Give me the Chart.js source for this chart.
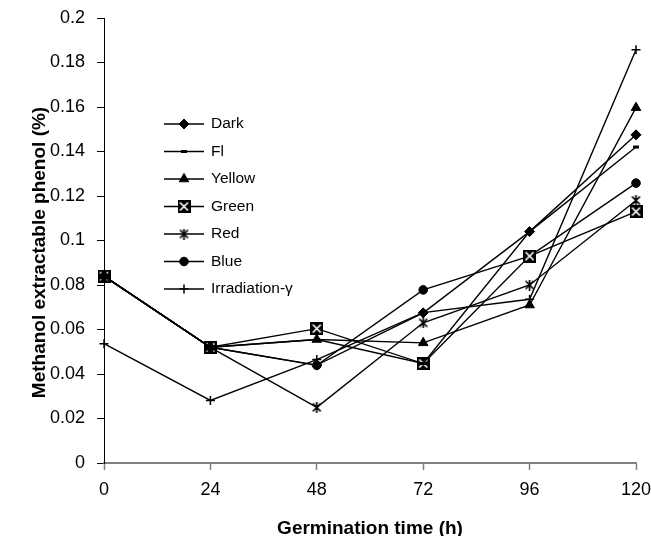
<!DOCTYPE html>
<html>
<head>
<meta charset="utf-8">
<script src="https://cdn.jsdelivr.net/npm/chart.js@4.4.1/dist/chart.umd.min.js"></script>
<style>
  html, body { margin: 0; padding: 0; background: #fff; }
  canvas { display: block; }
</style>
</head>
<body>
<canvas id="phenolChart" width="651" height="536"></canvas>
<script>
// Germination time (h)
const hours = ['0', '24', '48', '72', '96', '120'];

// Methanol extractable phenol (%) per light treatment
const dark = [0.084, 0.052, 0.044, 0.0675, 0.104, 0.1475];
const fl = [0.084, 0.052, 0.0555, 0.0447, 0.104, 0.142];
const yellow = [0.084, 0.052, 0.0555, 0.054, 0.071, 0.1597];
const green = [0.084, 0.052, 0.0604, 0.0447, 0.093, 0.113];
const red = [0.084, 0.052, 0.025, 0.063, 0.080, 0.118];
const blue = [0.084, 0.052, 0.0439, 0.0778, 0.093, 0.1258];
const irradiation = [0.0536, 0.0281, 0.0465, 0.0676, 0.0736, 0.1857];

const seriesNames = ['Dark', 'Fl', 'Yellow', 'Green', 'Red', 'Blue', 'Irradiation-γ'];
const yTitle = 'Methanol extractable phenol (%)';

Chart.defaults.font.family = '"Liberation Sans", Arial, sans-serif';
Chart.defaults.color = '#000';

// small canvases for the markers Chart.js doesn't have
function makeMarker(size, draw) {
    const c = document.createElement('canvas');
    c.width = size;
    c.height = size;
    draw(c.getContext('2d'), size);
    return c;
}

const greenMarker = makeMarker(13, (g, s) => {
    g.fillStyle = '#000';
    g.fillRect(0, 0, s, s);
    g.strokeStyle = '#fff';
    g.lineWidth = 1.7;
    g.beginPath();
    g.moveTo(2.5, 2.5); g.lineTo(s - 2.5, s - 2.5);
    g.moveTo(s - 2.5, 2.5); g.lineTo(2.5, s - 2.5);
    g.stroke();
});

const redMarker = makeMarker(11, (g, s) => {
    g.strokeStyle = '#000';
    g.lineWidth = 1.7;
    g.beginPath();
    g.moveTo(1.5, 1.5); g.lineTo(s - 1.5, s - 1.5);
    g.moveTo(s - 1.5, 1.5); g.lineTo(1.5, s - 1.5);
    g.moveTo(s / 2, 0); g.lineTo(s / 2, s);
    g.stroke();
});

function series(label, data, pointStyle, radius, pointBorderWidth) {
    return {
        label: label,
        data: data,
        borderColor: '#000',
        backgroundColor: '#000',
        borderWidth: 1.4,
        pointStyle: pointStyle,
        pointRadius: radius,
        pointBorderWidth: pointBorderWidth,
        pointBorderColor: '#000',
        pointBackgroundColor: '#000',
        tension: 0,
        fill: false
    };
}

// legend drawn inside the plot, like the original
const insideLegend = {
    id: 'insideLegend',
    afterDraw(chart) {
        const ctx = chart.ctx;
        ctx.save();
        ctx.font = '15.5px "Liberation Sans", Arial, sans-serif';
        ctx.textBaseline = 'middle';
        chart.data.datasets.forEach((ds, i) => {
            const y = 124 + i * 27.5;
            ctx.strokeStyle = '#000';
            ctx.fillStyle = '#000';
            ctx.lineWidth = ds.borderWidth;
            ctx.beginPath();
            ctx.moveTo(164, y);
            ctx.lineTo(204, y);
            ctx.stroke();
            ctx.lineWidth = ds.pointBorderWidth;
            Chart.helpers.drawPoint(ctx, {
                pointStyle: ds.pointStyle,
                radius: ds.pointRadius,
                rotation: 0,
                borderWidth: ds.pointBorderWidth
            }, 184, y);
            ctx.fillStyle = '#000';
            ctx.fillText(ds.label, 211, y);
        });
        ctx.restore();
    }
};

// y title sits a bit below the middle of the axis in the original
const yAxisTitle = {
    id: 'yAxisTitle',
    afterDraw(chart) {
        const ctx = chart.ctx;
        const area = chart.chartArea;
        ctx.save();
        ctx.translate(40, (area.top + area.bottom) / 2 + 12);
        ctx.rotate(-Math.PI / 2);
        ctx.font = 'bold 19px "Liberation Sans", Arial, sans-serif';
        ctx.textAlign = 'center';
        ctx.textBaseline = 'middle';
        ctx.fillStyle = '#000';
        ctx.fillText(yTitle, 0, 0);
        ctx.restore();
    }
};

const whiteBg = {
    id: 'whiteBg',
    beforeDraw(chart) {
        const ctx = chart.ctx;
        ctx.save();
        ctx.fillStyle = '#fff';
        ctx.fillRect(0, 0, chart.width, chart.height);
        ctx.restore();
    }
};

new Chart(document.getElementById('phenolChart'), {
    type: 'line',
    data: {
        labels: hours,
        datasets: [
            series(seriesNames[0], dark, 'rectRot', 5, 1),
            series(seriesNames[1], fl, 'line', 3, 3),
            series(seriesNames[2], yellow, 'triangle', 5.5, 1),
            series(seriesNames[3], green, greenMarker, 6.5, 1),
            series(seriesNames[4], red, redMarker, 5.5, 1.4),
            series(seriesNames[5], blue, 'circle', 4.3, 1),
            series(seriesNames[6], irradiation, 'cross', 4.5, 1.5)
        ]
    },
    options: {
        responsive: false,
        animation: false,
        devicePixelRatio: 1,
        layout: { padding: { top: 18, right: 15, left: 0, bottom: 0 } },
        plugins: {
            legend: { display: false },
            tooltip: { enabled: false }
        },
        scales: {
            x: {
                type: 'category',
                offset: false,
                grid: {
                    offset: false,
                    drawOnChartArea: false,
                    drawTicks: true,
                    tickLength: 7,
                    tickColor: '#808080',
                    tickWidth: 1.5
                },
                border: { color: '#808080', width: 2 },
                ticks: { font: { size: 18 }, padding: 9, maxRotation: 0, autoSkip: false },
                title: {
                    display: true,
                    text: 'Germination time (h)',
                    font: { size: 19, weight: 'bold' },
                    padding: { top: 0, bottom: -4 }
                },
                afterFit(scale) {
                    scale.height = 73;
                    scale.paddingLeft = 0;
                    scale.paddingRight = 0;
                }
            },
            y: {
                min: 0,
                max: 0.2,
                grid: {
                    drawOnChartArea: false,
                    drawTicks: true,
                    tickLength: 7,
                    tickColor: '#000',
                    tickWidth: 1
                },
                border: { color: '#000', width: 1 },
                ticks: {
                    stepSize: 0.02,
                    font: { size: 18 },
                    padding: 12,
                    callback: v => String(Math.round(v * 100) / 100)
                },
                title: { display: false },
                afterFit(scale) {
                    scale.width = 104;
                    scale.paddingTop = 0;
                    scale.paddingBottom = 0;
                }
            }
        }
    },
    plugins: [whiteBg, insideLegend, yAxisTitle]
});
</script>
</body>
</html>
